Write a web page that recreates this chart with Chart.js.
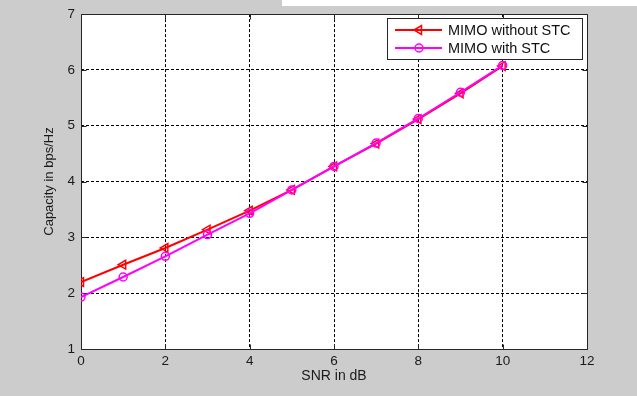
<!DOCTYPE html>
<html>
<head>
<meta charset="utf-8">
<script src="https://cdn.jsdelivr.net/npm/chart.js@4/dist/chart.umd.min.js"></script>
<style>
  html, body { margin: 0; padding: 0; background: #ffffff; }
  #wrap { width: 637px; height: 396px; }
</style>
</head>
<body>
<div id="wrap"><canvas id="c" width="637" height="396"></canvas></div>
<script>
// SNR values (dB) and channel capacity (bps/Hz) for the two schemes
const snrDb = [0, 1, 2, 3, 4, 5, 6, 7, 8, 9, 10];
const capacityWithoutStc = [2.20, 2.51, 2.81, 3.14, 3.48, 3.85, 4.27, 4.68, 5.12, 5.58, 6.07];
const capacityWithStc = [1.93, 2.29, 2.66, 3.05, 3.43, 3.85, 4.27, 4.69, 5.13, 5.60, 6.08];
const seriesNames = ['MIMO without STC', 'MIMO with STC'];
const xTicks = [0, 2, 4, 6, 8, 10, 12];
const yTicks = [1, 2, 3, 4, 5, 6, 7];

const FONT = '"Liberation Sans", Arial, Helvetica, sans-serif';
const RED = '#ff0000';
const MAGENTA = '#ff00ff';

const toPoints = (ys) => snrDb.map((x, i) => ({ x, y: ys[i] }));

// Figure background, white axes face, frame with inward ticks, legend
const figurePlugin = {
  id: 'figure',
  beforeDraw(chart) {
    const { ctx, chartArea: a } = chart;
    ctx.save();
    ctx.fillStyle = '#cccccc';
    ctx.fillRect(0, 0, chart.width, chart.height);
    ctx.fillStyle = '#ffffff';
    ctx.fillRect(282, 0, chart.width - 282, 6);
    ctx.fillRect(a.left, a.top, a.right - a.left, a.bottom - a.top);
    ctx.restore();
  },
  beforeDatasetsDraw(chart) {
    const { ctx, chartArea: a, scales } = chart;
    const L = Math.round(a.left) + 0.5, R = Math.round(a.right) + 0.5;
    const T = Math.round(a.top) + 0.5, B = Math.round(a.bottom) + 0.5;
    const tl = 5;
    ctx.save();
    ctx.strokeStyle = '#262626';
    ctx.lineWidth = 1;
    ctx.setLineDash([]);
    ctx.beginPath();
    ctx.rect(L, T, R - L, B - T);
    xTicks.forEach(v => {
      const px = Math.round(scales.x.getPixelForValue(v)) + 0.5;
      ctx.moveTo(px, B); ctx.lineTo(px, B - tl);
      ctx.moveTo(px, T); ctx.lineTo(px, T + tl);
    });
    yTicks.forEach(v => {
      const py = Math.round(scales.y.getPixelForValue(v)) + 0.5;
      ctx.moveTo(L, py); ctx.lineTo(L + tl, py);
      ctx.moveTo(R, py); ctx.lineTo(R - tl, py);
    });
    ctx.stroke();
    ctx.restore();
  },
  afterDraw(chart) {
    const { ctx } = chart;
    const box = { x: 387.5, y: 18.5, w: 195, h: 41 };
    ctx.save();
    ctx.fillStyle = '#ffffff';
    ctx.strokeStyle = '#262626';
    ctx.lineWidth = 1;
    ctx.fillRect(box.x, box.y, box.w, box.h);
    ctx.strokeRect(box.x, box.y, box.w, box.h);
    const rows = [
      { ds: chart.data.datasets[0], y: 30 },
      { ds: chart.data.datasets[1], y: 48 }
    ];
    rows.forEach(({ ds, y }) => {
      ctx.strokeStyle = ds.borderColor;
      ctx.lineWidth = ds.borderWidth;
      ctx.beginPath();
      ctx.moveTo(395, y); ctx.lineTo(442, y);
      ctx.stroke();
      const cx = 419, r = ds.pointRadius;
      ctx.lineWidth = ds.pointBorderWidth;
      ctx.beginPath();
      if (ds.pointStyle === 'triangle') {
        // left-pointing triangle
        for (let k = 0; k < 3; k++) {
          const ang = Math.PI + k * 2 * Math.PI / 3;
          const px = cx + Math.cos(ang) * r, py = y + Math.sin(ang) * r;
          k === 0 ? ctx.moveTo(px, py) : ctx.lineTo(px, py);
        }
        ctx.closePath();
      } else {
        ctx.arc(cx, y, r, 0, Math.PI * 2);
      }
      ctx.stroke();
      ctx.fillStyle = '#111111';
      ctx.font = '14.5px ' + FONT;
      ctx.textBaseline = 'middle';
      ctx.textAlign = 'left';
      ctx.fillText(ds.label, 448, y + 0.5);
    });
    ctx.restore();
  }
};

new Chart(document.getElementById('c'), {
  type: 'line',
  data: {
    datasets: [
      {
        label: seriesNames[0],
        data: toPoints(capacityWithoutStc),
        borderColor: RED,
        backgroundColor: 'rgba(0,0,0,0)',
        borderWidth: 2,
        pointStyle: 'triangle',
        rotation: -90,
        pointRadius: 5,
        pointBorderWidth: 1.5,
        pointBorderColor: RED,
        pointBackgroundColor: 'rgba(0,0,0,0)',
        tension: 0,
        order: 2
      },
      {
        label: seriesNames[1],
        data: toPoints(capacityWithStc),
        borderColor: MAGENTA,
        backgroundColor: 'rgba(0,0,0,0)',
        borderWidth: 2,
        pointStyle: 'circle',
        pointRadius: 4,
        pointBorderWidth: 1.5,
        pointBorderColor: MAGENTA,
        pointBackgroundColor: 'rgba(0,0,0,0)',
        tension: 0,
        order: 1
      }
    ]
  },
  options: {
    responsive: false,
    animation: false,
    devicePixelRatio: 1,
    layout: { padding: { left: 0, top: 12, right: 50, bottom: 0 } },
    plugins: {
      legend: { display: false },
      tooltip: { enabled: false }
    },
    scales: {
      x: {
        type: 'linear',
        min: 0,
        max: 12,
        afterBuildTicks: (s) => { s.ticks = xTicks.map(v => ({ value: v })); },
        afterFit: (s) => { s.height = 47; },
        ticks: {
          padding: 4,
          color: '#1a1a1a',
          font: { family: FONT, size: 13.5 },
          maxRotation: 0
        },
        grid: {
          drawTicks: false,
          color: (c) => (c.tick && (c.tick.value === 0 || c.tick.value === 12)) ? 'rgba(0,0,0,0)' : '#000000',
          lineWidth: 1
        },
        border: { display: false, dash: [3, 2] },
        title: {
          display: true,
          text: 'SNR in dB',
          color: '#1a1a1a',
          font: { family: FONT, size: 14 },
          padding: { top: 0, bottom: 11 }
        }
      },
      y: {
        type: 'linear',
        min: 1,
        max: 7,
        afterBuildTicks: (s) => { s.ticks = yTicks.map(v => ({ value: v })); },
        afterFit: (s) => { s.width = 81; },
        ticks: {
          padding: 6,
          color: '#1a1a1a',
          font: { family: FONT, size: 13.5 }
        },
        grid: {
          drawTicks: false,
          color: (c) => (c.tick && (c.tick.value === 1 || c.tick.value === 7)) ? 'rgba(0,0,0,0)' : '#000000',
          lineWidth: 1
        },
        border: { display: false, dash: [3, 2] },
        title: {
          display: true,
          text: 'Capacity in bps/Hz',
          color: '#1a1a1a',
          font: { family: FONT, size: 13 },
          padding: { top: 42, bottom: 0 }
        }
      }
    }
  },
  plugins: [figurePlugin]
});
</script>
</body>
</html>
